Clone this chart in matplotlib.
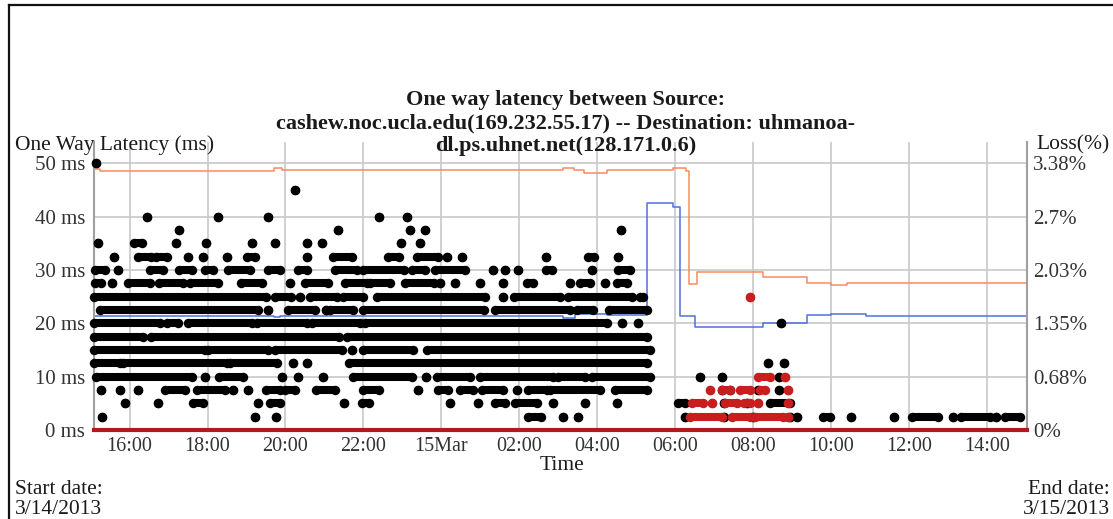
import numpy as np
import matplotlib
matplotlib.use("Agg")
import matplotlib.pyplot as plt
from matplotlib.lines import Line2D

# time = hours since 3/14/2013 00:00 ; single number = one dot, tuple = dense run of dots
black_50 = [15.15]
black_45 = [20.24]
black_40 = [16.46, 18.27, 19.56, 22.40, 23.13]
black_37_5 = [17.26, 21.34, 23.20, 23.57, 28.60]
black_35 = [15.18, (16.12, 16.33), 17.18, 17.96, 19.14, 19.72, 20.56, 20.93, 22.97, 23.46]
black_32_5 = [15.61, (16.22, 16.56), (16.69, 16.97), 17.50, 17.89, 18.51, (19.00, 19.21), 20.56,
              (21.23, 21.70), (22.64, 22.90), (23.37, 23.92), 24.14, 24.52, 26.68, (27.77, 27.92), 28.54]
black_30 = [(15.11, 15.37), 15.71, (16.52, 16.86), (17.26, 17.59), (17.93, 18.15), (18.53, 19.09),
            (19.56, 19.85), (20.32, 20.54), (21.27, 21.83), (22.00, 23.03), (23.24, 23.58), (23.84, 24.61),
            25.32, 25.63, 25.97, (26.68, 26.83), 27.86, (28.54, 28.84)]
black_27_5 = [(15.11, 15.28), 15.54, (15.95, 16.52), (16.75, 17.38), (17.55, 18.27), (18.85, 19.40), 20.11,
              (20.50, 21.10), (21.53, 22.09), (22.17, 22.68), (23.07, 23.80), 23.97, 24.35, 24.98, 25.57,
              (26.19, 26.36), 27.29, (27.56, 27.82), 28.20, (28.50, 28.76)]
black_25 = [(15.09, 19.51), (19.73, 20.15), 20.37, (20.62, 21.32), (21.47, 22.00), (22.34, 25.12), 25.57,
            (25.85, 27.05), (27.26, 28.88), (29.10, 29.18)]
black_22_5 = [(15.24, 19.30), 19.56, (20.07, 20.75), 21.05, (21.15, 21.74), (22.00, 25.08), (25.38, 27.30),
              (27.47, 27.90), (28.29, 29.27)]
black_20 = [(15.09, 16.78), (16.97, 17.25), (17.50, 19.13), (19.26, 20.54), (20.67, 21.92), (22.04, 28.24),
            28.63, 29.05, 32.70]
black_17_5 = [(15.09, 16.35), (16.56, 21.36), (21.57, 29.27)]
black_15 = [(15.09, 17.93), (18.02, 19.56), (19.73, 21.45), 21.70, (21.98, 23.28), (23.62, 29.35)]
black_12_5 = [(15.09, 15.75), (15.84, 18.49), (18.57, 19.77), 20.20, 20.54, (21.64, 29.27), 32.38, 32.80]
black_10 = [(15.15, 17.59), 17.93, (18.29, 18.91), 19.90, 20.31, 20.97, (21.74, 23.24), 23.61, (23.88, 24.74),
            (24.99, 26.87), (27.00, 27.69), (27.86, 29.35), 30.63, 31.20, 32.65]
black_7_5 = [15.28, 15.75, 16.22, (16.90, 17.42), (17.72, 18.44), 18.66, 19.03, (19.51, 19.85), (19.98, 20.24),
             (20.79, 21.27), (22.00, 22.39), 23.41, (23.92, 24.18), (24.48, 24.82), (25.03, 25.59), 25.93,
             (26.23, 26.70), (26.79, 28.07), (28.46, 29.27), 31.20, 31.40, 32.13, 32.65]
black_5 = [15.88, 16.74, (17.63, 17.89), 19.30, (19.60, 19.85), 21.49, (21.96, 22.13), 24.22, 24.95,
           (25.38, 25.63), (25.90, 26.45), 26.87, 27.69, 28.50, (30.08, 30.25), 31.24, 31.85, (32.43, 32.95)]
black_2_5 = [15.30, 19.21, 19.75, (26.22, 26.55), 27.13, 27.50, 30.25, 31.25, 32.00, 32.95, 33.11,
             (33.80, 33.97), 34.50, 35.60, (36.06, 36.74), 37.13, (37.34, 38.07), 38.22, (38.45, 38.84)]

red_25 = [31.92]
red_10 = [(32.13, 32.43), 32.82]
red_7_5 = [30.89, (31.19, 31.40), (31.66, 31.92), (32.17, 32.30), 32.88]
red_5 = [(30.42, 30.72), 30.94, (31.28, 31.58), (31.75, 31.92), 32.13, 32.88]
red_2_5 = [(30.38, 31.19), (31.45, 31.92), (32.04, 32.77), 32.90]

# two summary lines (ms), step values
orange_t = [15.08, 15.25, 19.70, 19.90, 27.13, 27.40, 27.66, 28.26, 29.95, 30.27, 30.36, 30.55, 32.24, 33.37, 34.00, 34.40, 39.03]
orange_ms = [48.9, 48.6, 49.1, 48.7, 49.2, 48.8, 48.2, 48.8, 49.2, 48.6, 27.3, 29.6, 28.6, 27.5, 27.2, 27.6, 27.5]
blue_t = [15.08, 19.70, 19.85, 27.13, 27.43, 28.24, 29.27, 29.95, 30.12, 30.50, 32.26, 33.37, 34.00, 34.90, 39.03]
blue_ms = [21.3, 21.1, 21.3, 21.0, 21.8, 21.5, 42.6, 41.9, 21.4, 19.3, 20.1, 21.5, 21.7, 21.4, 21.4]

loss_t = [15.08, 39.03]
loss_pct = [0.0, 0.0]

xtick_hours = [16, 18, 20, 22, 24, 26, 28, 30, 32, 34, 36, 38]
xtick_labels = ["16:00", "18:00", "20:00", "22:00", "15Mar", "02:00", "04:00", "06:00", "08:00", "10:00", "12:00", "14:00"]
ytick_ms = [0, 10, 20, 30, 40, 50]
ytick_labels = ["0 ms", "10 ms", "20 ms", "30 ms", "40 ms", "50 ms"]
loss_ticks = [0, 0.676, 1.352, 2.028, 2.704, 3.38]
loss_labels = ["0%", "0.68%", "1.35%", "2.03%", "2.7%", "3.38%"]

black_rows = [(50, black_50), (45, black_45), (40, black_40), (37.5, black_37_5), (35, black_35),
              (32.5, black_32_5), (30, black_30), (27.5, black_27_5), (25, black_25), (22.5, black_22_5),
              (20, black_20), (17.5, black_17_5), (15, black_15), (12.5, black_12_5), (10, black_10),
              (7.5, black_7_5), (5, black_5), (2.5, black_2_5)]
red_rows = [(25, red_25), (10, red_10), (7.5, red_7_5), (5, red_5), (2.5, red_2_5)]

plt.rcParams['font.family'] = ['Liberation Serif', 'DejaVu Serif']
W, H = 1113, 519
fig = plt.figure(figsize=(W / 100, H / 100), dpi=100)
fig.patch.set_facecolor('white')

x0, x1, ybot, ytop = 93.7, 1027.3, 430.0, 141.7
ax = fig.add_axes([x0 / W, (H - ybot) / H, (x1 - x0) / W, (ybot - ytop) / H])
ymax = 50 * (ybot - ytop) / (ybot - 163.3)
ax.set_xlim(15.08, 39.03)
ax.set_ylim(0, ymax)

ax.set_xticks(xtick_hours)
ax.set_xticklabels(xtick_labels)
ax.set_yticks(ytick_ms)
ax.set_yticklabels(ytick_labels)
ax.grid(True, color='#c8c8c8', linewidth=1.2)
ax.set_axisbelow(True)
ax.tick_params(length=0, colors='#333333')
ax.tick_params(axis='x', pad=5, labelsize=14.5)
ax.tick_params(axis='y', pad=6, labelsize=15)
for s in ['top', 'bottom']:
    ax.spines[s].set_visible(False)
for s in ['left', 'right']:
    ax.spines[s].set_color('#a0a0a0')
    ax.spines[s].set_linewidth(1.5)


def draw_rows(rows, color):
    for lvl, items in rows:
        xs, ys = [], []
        for it in items:
            a, b = (it, it) if np.isscalar(it) else it
            xs += [a, b, np.nan]
            ys += [lvl, lvl, np.nan]
        ax.plot(xs, ys, color=color, lw=5.8, marker='o', ms=6.8, mew=0,
                solid_capstyle='butt', zorder=3, clip_on=False)


ax.step(orange_t, orange_ms, where='post', color='#fb8a5e', lw=1.1, zorder=2)
ax.step(blue_t, blue_ms, where='post', color='#4d72d8', lw=1.1, zorder=2)
draw_rows(black_rows, '#000000')
draw_rows(red_rows, '#c81e1e')

ax2 = ax.twinx()
ax2.set_ylim(0, 3.38 * ymax / 50)
ax2.set_yticks(loss_ticks)
ax2.set_yticklabels(loss_labels)
ax2.tick_params(length=0, labelsize=15, colors='#333333', pad=4)
for s in ['top', 'bottom', 'left', 'right']:
    ax2.spines[s].set_visible(False)
ax2.plot(loss_t, loss_pct, color='#b3191c', lw=3, clip_on=False, zorder=4)

title = ("One way latency between Source:\n"
         "cashew.noc.ucla.edu(169.232.55.17) -- Destination: uhmanoa-\n"
         "dl.ps.uhnet.net(128.171.0.6)")
fig.text(566 / W, 1 - 123 / H, title, ha='center', va='center', fontsize=16, fontweight='bold',
         color='#1a1a1a', linespacing=1.2)
fig.text(15 / W, 1 - 145 / H, "One Way Latency (ms)", ha='left', va='center', fontsize=15.5, color='#1a1a1a')
fig.text(1036 / W, 1 - 145 / H, "Loss(%)", ha='left', va='center', fontsize=15.5, color='#1a1a1a')
fig.text(562 / W, 1 - 465 / H, "Time", ha='center', va='center', fontsize=15.5, color='#1a1a1a')
fig.text(15 / W, 1 - 489 / H, "Start date:", ha='left', va='center', fontsize=15.5, color='#1a1a1a')
fig.text(15 / W, 1 - 510 / H, "3/14/2013", ha='left', va='center', fontsize=15.5, color='#1a1a1a')
fig.text(1110 / W, 1 - 489 / H, "End date:", ha='right', va='center', fontsize=15.5, color='#1a1a1a')
fig.text(1110 / W, 1 - 510 / H, "3/15/2013", ha='right', va='center', fontsize=15.5, color='#1a1a1a')

# outer frame (top and left edges)
fig.add_artist(Line2D([9 / W, 1], [1 - 5 / H, 1 - 5 / H], color='#111111', lw=1.6))
fig.add_artist(Line2D([9 / W, 9 / W], [0, 1 - 5 / H], color='#111111', lw=1.6))

fig.savefig('out.png', dpi=100)
